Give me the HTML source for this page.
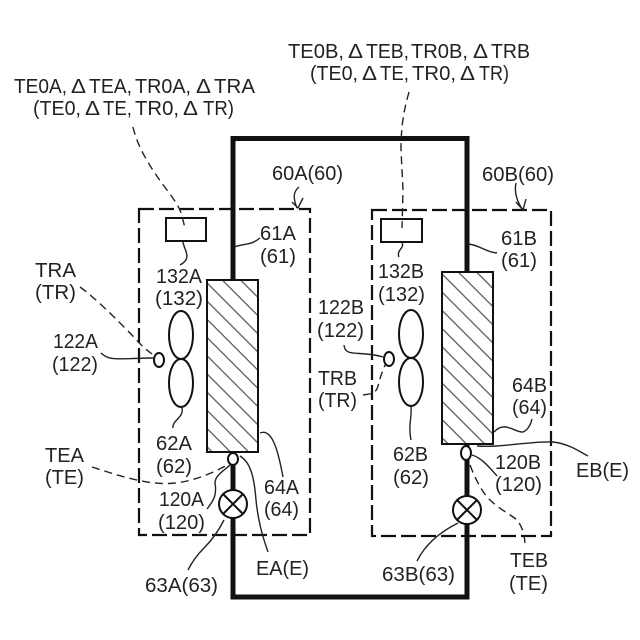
<!DOCTYPE html>
<html><head><meta charset="utf-8"><style>
html,body{margin:0;padding:0;background:#fff;width:640px;height:640px;overflow:hidden}
svg{display:block}
text{font-family:"Liberation Sans","Noto Sans CJK JP",sans-serif;font-size:20px;fill:#222}
.l{fill:none;stroke:#222;stroke-width:1.4}
.d{fill:none;stroke:#222;stroke-width:1.4;stroke-dasharray:8 5}
.b{fill:none;stroke:#111;stroke-width:2.2;stroke-dasharray:15 5}
.s{fill:#fff;stroke:#111;stroke-width:2}
</style></head><body>
<svg width="640" height="640" viewBox="0 0 640 640" xmlns="http://www.w3.org/2000/svg">
<defs>
<pattern id="h1" patternUnits="userSpaceOnUse" width="30" height="12.87" patternTransform="translate(207 282) rotate(45)"><rect width="30" height="12.87" fill="#fff"/><line x1="0" x2="30" y1="0.6" y2="0.6" stroke="#555" stroke-width="1.2"/></pattern>
<pattern id="h2" patternUnits="userSpaceOnUse" width="30" height="12.87" patternTransform="translate(442 273) rotate(45)"><rect width="30" height="12.87" fill="#fff"/><line x1="0" x2="30" y1="0.6" y2="0.6" stroke="#555" stroke-width="1.2"/></pattern>
</defs>
<rect x="0" y="0" width="640" height="640" fill="#fff"/>

<!-- dashed boxes -->
<rect class="b" x="139" y="209" width="171" height="326"/>
<rect class="b" x="372" y="210" width="179" height="326"/>

<!-- thick pipe -->
<path d="M233 280V138.500H467V597H233V460" fill="none" stroke="#111" stroke-width="5"/>

<!-- condensers -->
<rect x="207" y="280" width="51" height="172" fill="url(#h1)" stroke="#111" stroke-width="2"/>
<rect x="442" y="272" width="51" height="172" fill="url(#h2)" stroke="#111" stroke-width="2"/>

<!-- control boxes -->
<rect class="s" x="166" y="218" width="40" height="23"/>
<rect class="s" x="381" y="219" width="41" height="23"/>

<!-- fans -->
<ellipse class="s" cx="181" cy="335" rx="12" ry="24"/>
<ellipse class="s" cx="181" cy="383" rx="12" ry="24"/>
<ellipse class="s" cx="411" cy="334" rx="12" ry="24"/>
<ellipse class="s" cx="411" cy="382" rx="12" ry="24"/>

<!-- sensors -->
<ellipse class="s" cx="159" cy="360" rx="5" ry="7"/>
<ellipse class="s" cx="389" cy="359" rx="5" ry="7"/>
<ellipse class="s" cx="233" cy="459" rx="5" ry="6"/>
<ellipse class="s" cx="466" cy="453" rx="5" ry="7"/>

<!-- valves -->
<circle class="s" cx="233" cy="504" r="14"/><path class="s" d="M223 494L243 514M243 494L223 514"/>
<circle class="s" cx="467" cy="510" r="14"/><path class="s" d="M457 500L477 520M477 500L457 520"/>

<!-- dashed leaders -->
<path class="d" d="M133 127C137 145 148 165 167 190S180 215 186 230"/>
<path class="d" d="M409 92C404 110 401 125 401 150L403 190L402 228"/>
<path class="d" d="M80 287C95 298 110 313 125 328S140 345 152 354"/>
<path class="d" d="M363 395C370 394 376 394 378 386S381 375 385 365"/>
<path class="d" d="M92 467C120 476 150 486 175 483C195 481 215 472 229 464"/>
<path class="d" d="M470 465C475 478 480 488 487 497C497 508 510 514 517 520C522 526 525 535 525 546"/>

<!-- solid leaders -->
<path class="l" d="M299 187C293 192 293 198 297 208M292 202L298 208L303 198"/>
<path class="l" d="M516 183C514 192 517 202 523 210M516 202L523 210L526 199"/>
<path class="l" d="M234 247C245 243 250 246 260 238"/>
<path class="l" d="M468 244C480 245 485 252 497 253"/>
<path class="l" d="M183 242C184 250 193 258 180 265"/>
<path class="l" d="M402 243C405 248 396 250 399 257"/>
<path class="l" d="M101 353C110 362 120 358 155 358"/>
<path class="l" d="M344 345C345 358 360 350 383 357"/>
<path class="l" d="M182 408C184 418 172 420 173 428"/>
<path class="l" d="M411 407C412 418 408 425 411 440"/>
<path class="l" d="M260 433C272 428 278 450 283 477"/>
<path class="l" d="M494 432C505 420 515 433 523 432C528 430 531 424 532 419"/>
<path class="l" d="M240 456C250 462 254 475 256 500C258 520 262 535 268 552"/>
<path class="l" d="M477 446C500 448 530 441 553 442C570 444 580 452 588 456"/>
<path class="l" d="M207 509C214 500 217 495 215 483C215 475 225 470 230 465"/>
<path class="l" d="M472 455C482 458 490 468 497 476"/>
<path class="l" d="M224 520C218 532 212 540 204 548C196 556 192 562 188 570"/>
<path class="l" d="M458 523C440 532 425 545 417 561"/>

<!-- labels -->
<g>
<text x="14" y="93" textLength="53" lengthAdjust="spacingAndGlyphs">TE0A,</text>
<text x="71" y="93" textLength="15" lengthAdjust="spacingAndGlyphs">Δ</text>
<text x="89" y="93" textLength="43" lengthAdjust="spacingAndGlyphs">TEA,</text>
<text x="135" y="93" textLength="56" lengthAdjust="spacingAndGlyphs">TR0A,</text>
<text x="196" y="93" textLength="15" lengthAdjust="spacingAndGlyphs">Δ</text>
<text x="214" y="93" textLength="41" lengthAdjust="spacingAndGlyphs">TRA</text>
<text x="33" y="115" textLength="48" lengthAdjust="spacingAndGlyphs">(TE0,</text>
<text x="85" y="115" textLength="15" lengthAdjust="spacingAndGlyphs">Δ</text>
<text x="103" y="115" textLength="29" lengthAdjust="spacingAndGlyphs">TE,</text>
<text x="135" y="115" textLength="44" lengthAdjust="spacingAndGlyphs">TR0,</text>
<text x="183" y="115" textLength="15" lengthAdjust="spacingAndGlyphs">Δ</text>
<text x="203" y="115" textLength="31" lengthAdjust="spacingAndGlyphs">TR)</text>
<text x="288" y="58" textLength="56" lengthAdjust="spacingAndGlyphs">TE0B,</text>
<text x="348" y="58" textLength="15" lengthAdjust="spacingAndGlyphs">Δ</text>
<text x="366" y="58" textLength="43" lengthAdjust="spacingAndGlyphs">TEB,</text>
<text x="411" y="58" textLength="57" lengthAdjust="spacingAndGlyphs">TR0B,</text>
<text x="473" y="58" textLength="15" lengthAdjust="spacingAndGlyphs">Δ</text>
<text x="491" y="58" textLength="39" lengthAdjust="spacingAndGlyphs">TRB</text>
<text x="310" y="80" textLength="48" lengthAdjust="spacingAndGlyphs">(TE0,</text>
<text x="362" y="80" textLength="15" lengthAdjust="spacingAndGlyphs">Δ</text>
<text x="380" y="80" textLength="29" lengthAdjust="spacingAndGlyphs">TE,</text>
<text x="412" y="80" textLength="44" lengthAdjust="spacingAndGlyphs">TR0,</text>
<text x="460" y="80" textLength="15" lengthAdjust="spacingAndGlyphs">Δ</text>
<text x="479" y="80" textLength="30" lengthAdjust="spacingAndGlyphs">TR)</text>
</g>
<text x="272" y="180" textLength="71" lengthAdjust="spacingAndGlyphs">60A(60)</text>
<text x="482" y="181" textLength="72" lengthAdjust="spacingAndGlyphs">60B(60)</text>
<text x="260" y="240" textLength="36" lengthAdjust="spacingAndGlyphs">61A</text>
<text x="260" y="263" textLength="36" lengthAdjust="spacingAndGlyphs">(61)</text>
<text x="501" y="245" textLength="36" lengthAdjust="spacingAndGlyphs">61B</text>
<text x="501" y="267" textLength="36" lengthAdjust="spacingAndGlyphs">(61)</text>
<text x="156" y="283" textLength="46" lengthAdjust="spacingAndGlyphs">132A</text>
<text x="155" y="305" textLength="48" lengthAdjust="spacingAndGlyphs">(132)</text>
<text x="378" y="278" textLength="46" lengthAdjust="spacingAndGlyphs">132B</text>
<text x="378" y="301" textLength="47" lengthAdjust="spacingAndGlyphs">(132)</text>
<text x="35" y="277" textLength="41" lengthAdjust="spacingAndGlyphs">TRA</text>
<text x="35" y="299" textLength="41" lengthAdjust="spacingAndGlyphs">(TR)</text>
<text x="53" y="348" textLength="45" lengthAdjust="spacingAndGlyphs">122A</text>
<text x="52" y="371" textLength="46" lengthAdjust="spacingAndGlyphs">(122)</text>
<text x="318" y="314" textLength="46" lengthAdjust="spacingAndGlyphs">122B</text>
<text x="317" y="337" textLength="47" lengthAdjust="spacingAndGlyphs">(122)</text>
<text x="318" y="385" textLength="39" lengthAdjust="spacingAndGlyphs">TRB</text>
<text x="318" y="407" textLength="39" lengthAdjust="spacingAndGlyphs">(TR)</text>
<text x="156" y="450" textLength="36" lengthAdjust="spacingAndGlyphs">62A</text>
<text x="156" y="473" textLength="36" lengthAdjust="spacingAndGlyphs">(62)</text>
<text x="393" y="461" textLength="35" lengthAdjust="spacingAndGlyphs">62B</text>
<text x="393" y="484" textLength="36" lengthAdjust="spacingAndGlyphs">(62)</text>
<text x="45" y="462" textLength="39" lengthAdjust="spacingAndGlyphs">TEA</text>
<text x="45" y="484" textLength="39" lengthAdjust="spacingAndGlyphs">(TE)</text>
<text x="159" y="506" textLength="45" lengthAdjust="spacingAndGlyphs">120A</text>
<text x="158" y="529" textLength="47" lengthAdjust="spacingAndGlyphs">(120)</text>
<text x="495" y="469" textLength="46" lengthAdjust="spacingAndGlyphs">120B</text>
<text x="495" y="491" textLength="47" lengthAdjust="spacingAndGlyphs">(120)</text>
<text x="264" y="494" textLength="35" lengthAdjust="spacingAndGlyphs">64A</text>
<text x="264" y="516" textLength="35" lengthAdjust="spacingAndGlyphs">(64)</text>
<text x="512" y="392" textLength="35" lengthAdjust="spacingAndGlyphs">64B</text>
<text x="512" y="414" textLength="35" lengthAdjust="spacingAndGlyphs">(64)</text>
<text x="256" y="575" textLength="53" lengthAdjust="spacingAndGlyphs">EA(E)</text>
<text x="576" y="477" textLength="53" lengthAdjust="spacingAndGlyphs">EB(E)</text>
<text x="145" y="592" textLength="73" lengthAdjust="spacingAndGlyphs">63A(63)</text>
<text x="382" y="581" textLength="73" lengthAdjust="spacingAndGlyphs">63B(63)</text>
<text x="510" y="567" textLength="38" lengthAdjust="spacingAndGlyphs">TEB</text>
<text x="509" y="590" textLength="39" lengthAdjust="spacingAndGlyphs">(TE)</text>
</svg>
</body></html>
